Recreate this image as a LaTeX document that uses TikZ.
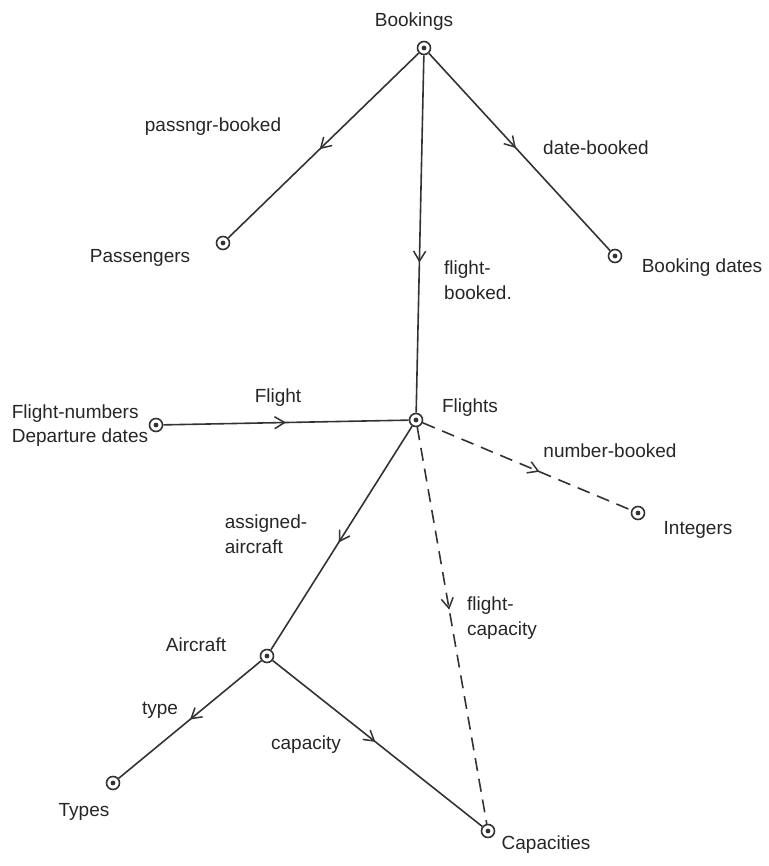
\documentclass[tikz,border=0pt]{standalone}
\usepackage{fontspec}
\setmainfont{Liberation Sans}
\usetikzlibrary{arrows.meta,decorations.markings}
\begin{document}
\begin{tikzpicture}[x=1pt,y=-1pt,
  ink/.style={draw=black!80, line width=1.6pt},
  dot/.style={circle, draw=black!80, line width=1.6pt, minimum size=13pt, inner sep=0pt,
    path picture={\fill[black!80] (path picture bounding box.center) circle (2.4pt);}},
  lbl/.style={font=\fontsize{19}{22}\selectfont, text=black!85, inner sep=1pt, align=left},
  midarrow/.style={decoration={markings, mark=at position #1 with {\arrow{Straight Barb[length=10pt,width=12pt,line width=1.5pt]}}}, postaction={decorate}},
  midarrow/.default=0.5,
  rel/.style={ink, midarrow=#1},
  rel/.default=0.5,
  opt/.style={ink, dash pattern=on 13pt off 8pt, midarrow=#1},
  opt/.default=0.5]
\useasboundingbox (0,0) rectangle (768,866);

% sets
\node[dot] (bookings) at (424,48) {};
\node[dot] (passengers) at (223,243) {};
\node[dot] (bdates) at (615,256) {};
\node[dot] (flights) at (416,420) {};
\node[dot] (fnum) at (156,425) {};
\node[dot] (integers) at (638,513) {};
\node[dot] (aircraft) at (267,656) {};
\node[dot] (types) at (113,783) {};
\node[dot] (capacities) at (488,831) {};

% set names
\node[lbl] (tbookings) at (414,22) {Bookings};
\node[lbl] (tpass) at (140,258) {Passengers};
\node[lbl] (tbdates) at (702,268) {Booking dates};
\node[lbl] (tflights) at (470,408) {Flights};
\node[lbl, align=left] (tfnum) at (80,426) {Flight-numbers\\[2pt]Departure dates};
\node[lbl] (tint) at (698,530) {Integers};
\node[lbl] (taircraft) at (196,645) {Aircraft};
\node[lbl] (ttypes) at (84,812) {Types};
\node[lbl] (tcap) at (546,845) {Capacities};

% relations
\draw[rel=0.52] (bookings) -- (passengers);
\draw[rel=0.48] (bookings) -- (bdates);
\draw[rel=0.58] (bookings) -- (flights);
\draw[rel=0.5] (fnum) -- (flights);
\draw[opt=0.56] (flights) -- (integers);
\draw[rel=0.52] (flights) -- (aircraft);
\draw[opt=0.46] (flights) -- (capacities);
\draw[rel=0.5] (aircraft) -- (types);
\draw[rel=0.49] (aircraft) -- (capacities);

% relation names
\node[lbl] (lpass) at (213,127) {passngr-booked};
\node[lbl] (ldate) at (596,148) {date-booked};
\node[lbl] (lfb) at (478,280) {flight-\\[3pt]booked.};
\node[lbl] (lflight) at (278,398) {Flight};
\node[lbl] (lnum) at (610,451) {number-booked};
\node[lbl] (lassigned) at (266,534) {assigned-\\[3pt]aircraft};
\node[lbl] (lfcap) at (502,618) {flight-\\[3pt]capacity};
\node[lbl] (ltype) at (160,710) {type};
\node[lbl] (lcapacity) at (306,745) {capacity};
\end{tikzpicture}
\end{document}
